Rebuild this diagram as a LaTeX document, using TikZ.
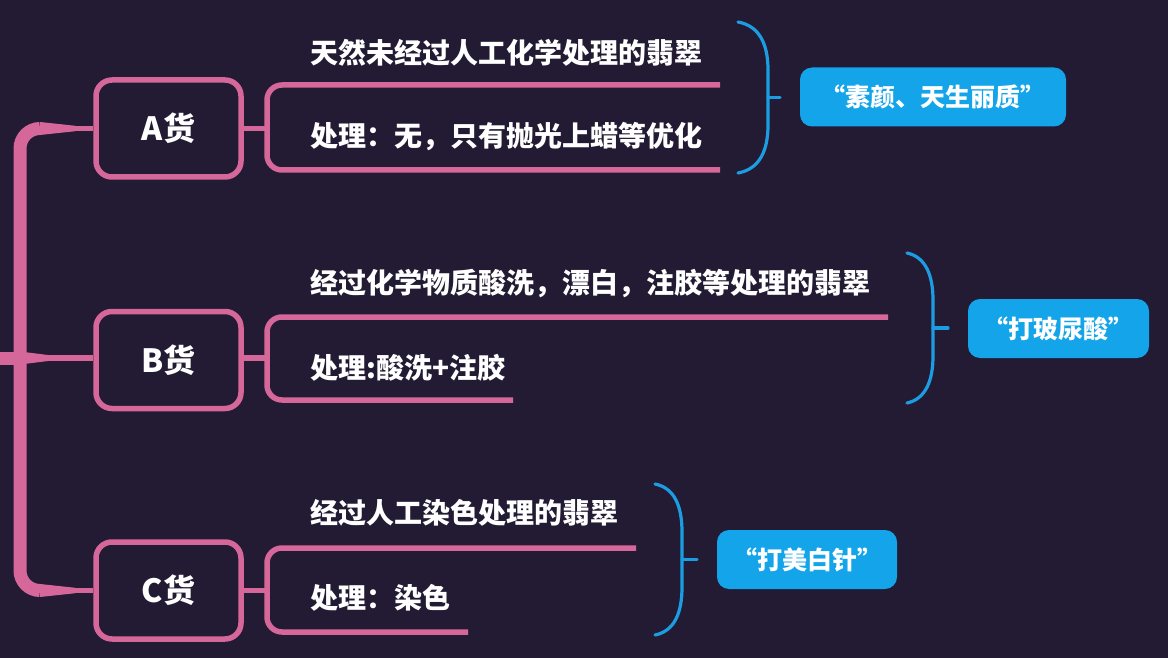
\documentclass[tikz,border=0pt]{standalone}
\usepackage{fontspec}
\setmainfont{Noto Sans CJK SC}
\definecolor{bgc}{HTML}{231A33}
\definecolor{pinkc}{HTML}{D6679A}
\definecolor{bluebox}{HTML}{14A4EA}
\definecolor{blueline}{HTML}{1C9DE2}
\tikzset{
  trunk/.style={draw=pinkc, line width=13pt},
  branch/.style={draw=pinkc, line width=5.5pt},
  taper/.style={fill=pinkc},
  gbox/.style={draw=pinkc, line width=5.5pt, rounded corners=16pt, minimum width=145pt, minimum height=97pt, inner sep=0pt, text=white, font=\bfseries\fontsize{32}{32}\selectfont},
  txt/.style={anchor=west, inner sep=0pt, text=white, font=\bfseries\fontsize{28}{28}\selectfont},
  tag/.style={fill=bluebox, rounded corners=12pt, minimum height=59pt, inner sep=0pt, text=white, font=\bfseries\fontsize{25}{25}\selectfont},
  bline/.style={draw=blueline, line width=3.2pt, line cap=round},
}
\begin{document}
\begin{tikzpicture}[x=1pt,y=-1pt]
\fill[bgc] (0,0) rectangle (1168,658);
\useasboundingbox (0,0) rectangle (1168,658);

% grade boxes
\node[gbox] (A) at (168.5,128.5) {A货};
\node[gbox] (B) at (168.5,360) {B货};
\node[gbox] (C) at (168.5,590.5) {C货};

% trunk
\coordinate (root) at (0,358);
\coordinate (cA) at (20,128.5);
\coordinate (cB) at (20,358);
\coordinate (cC) at (20,590.5);
\coordinate (tA) at (40,128.5);
\coordinate (tC) at (40,590.5);
\draw[trunk, rounded corners=20pt] (tA) -- (cA) -- (cC) -- (tC);
\draw[trunk] (root) -- (cB);
\fill[taper] (tA) ++(0,-6.5) -- ++(0,13) -- ++(35,-3.75) -- ++(0,-5.5) -- cycle;
\fill[taper] (tC) ++(0,-6.5) -- ++(0,13) -- ++(35,-3.75) -- ++(0,-5.5) -- cycle;
\fill[taper] (cB) ++(0,-6.5) -- ++(0,13) -- ++(30,-3.75) -- ++(0,-5.5) -- cycle;
\draw[branch] (tA) -- (A.west);
\draw[branch] (cB) -- (B.west |- cB);
\draw[branch] (tC) -- (C.west);

% A bracket
\coordinate (aTL) at (267,85);
\coordinate (aTR) at (720,85);
\coordinate (aBL) at (267,170);
\coordinate (aBR) at (720,170);
\coordinate (aM) at (267,128.5);
\draw[branch, rounded corners=15pt] (aTR) -- (aTL) -- (aBL) -- (aBR);
\draw[branch] (A.east) -- (aM);
\node[txt] (a1) at (310,53) {天然未经过人工化学处理的翡翠};
\node[txt] (a2) at (310,137) {处理：无，只有抛光上蜡等优化};

% B bracket
\coordinate (bTL) at (267,317);
\coordinate (bTR) at (888,317);
\coordinate (bBL) at (267,400);
\coordinate (bBR) at (513,400);
\coordinate (bM) at (267,358);
\draw[branch, rounded corners=15pt] (bTR) -- (bTL) -- (bBL) -- (bBR);
\draw[branch] (B.east |- bM) -- (bM);
\node[txt] (b1) at (310,284) {经过化学物质酸洗，漂白，注胶等处理的翡翠};
\node[txt] (b2) at (310,368) {处理:酸洗+注胶};

% C bracket
\coordinate (cTL) at (267,548);
\coordinate (cTR) at (636,548);
\coordinate (cBL) at (267,632);
\coordinate (cBR) at (468,632);
\coordinate (cM) at (267,590.5);
\draw[branch, rounded corners=15pt] (cTR) -- (cTL) -- (cBL) -- (cBR);
\draw[branch] (C.east) -- (cM);
\node[txt] (c1) at (310,513) {经过人工染色处理的翡翠};
\node[txt] (c2) at (310,598) {处理：染色};

% blue brackets and tags
\node[tag, minimum width=266pt] (ta) at (933,97) {“素颜、天生丽质”};
\node[tag, minimum width=181pt] (tb) at (1058.5,328.5) {“打玻尿酸”};
\node[tag, minimum width=180pt] (tc) at (807,559.5) {“打美白针”};

\coordinate (pa1) at (738,22);
\coordinate (pa2) at (738,173);
\coordinate (pam) at (768,97.5);
\coordinate (pae) at (780,97.5);
\draw[bline] (pa1) .. controls (760,26) and (768,45) .. (768,70) -- (768,125) .. controls (768,150) and (760,169) .. (pa2);
\draw[bline] (pam) -- (pae);

\coordinate (pb1) at (907,253);
\coordinate (pb2) at (907,403);
\coordinate (pbm) at (933,328);
\coordinate (pbe) at (948,328);
\draw[bline] (pb1) .. controls (926,257) and (933,276) .. (933,300) -- (933,356) .. controls (933,380) and (926,399) .. (pb2);
\draw[bline] (pbm) -- (pbe);

\coordinate (pc1) at (655,484);
\coordinate (pc2) at (655,635);
\coordinate (pcm) at (682,559.5);
\coordinate (pce) at (697,559.5);
\draw[bline] (pc1) .. controls (675,488) and (682,507) .. (682,532) -- (682,587) .. controls (682,612) and (675,631) .. (pc2);
\draw[bline] (pcm) -- (pce);
\end{tikzpicture}
\end{document}
